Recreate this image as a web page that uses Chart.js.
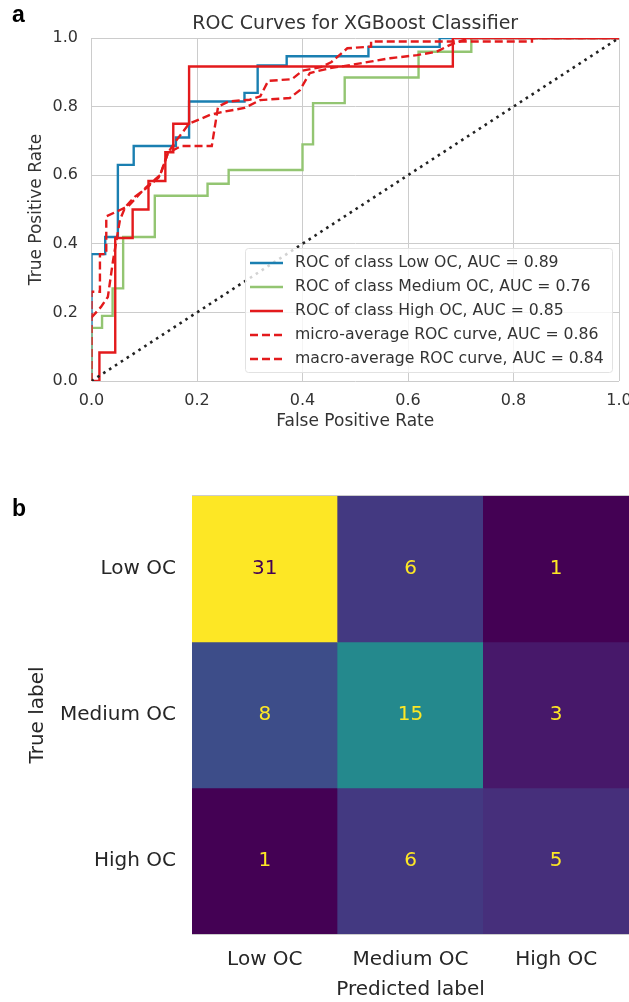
<!DOCTYPE html>
<html>
<head>
<meta charset="utf-8">
<script src="https://cdn.jsdelivr.net/npm/chart.js@4.4.0/dist/chart.umd.min.js"></script>
<style>
  html, body { margin: 0; padding: 0; background: #fff; overflow: hidden; }
  #wrap { position: relative; width: 629px; height: 1002px; }
  .panel { position: absolute; font-family: "Liberation Sans", Arial, sans-serif; font-weight: bold; font-size: 23px; line-height: 1; color: #000; }
  #rocBox { position: absolute; left: 0; top: 0; width: 629px; height: 445px; }
  #cmBox { position: absolute; left: 0; top: 480px; width: 629px; height: 522px; }
</style>
</head>
<body>
<div id="wrap">
  <div id="rocBox"><canvas id="roc"></canvas></div>
  <div id="cmBox"><canvas id="cm"></canvas></div>
  <div class="panel" style="left:12px; top:3px;">a</div>
  <div class="panel" style="left:12px; top:497px;">b</div>
</div>
<script>
// ROC curve points (fpr, tpr)
const lowFpr = [0, 0, 0.026, 0.026, 0.05, 0.05, 0.08, 0.08, 0.16, 0.16, 0.185, 0.185, 0.29, 0.29, 0.315, 0.315, 0.37, 0.37, 0.525, 0.525, 0.66, 0.66, 1];
const lowTpr = [0, 0.37, 0.37, 0.42, 0.42, 0.63, 0.63, 0.685, 0.685, 0.71, 0.71, 0.815, 0.815, 0.84, 0.84, 0.92, 0.92, 0.947, 0.947, 0.974, 0.974, 1, 1];

const medFpr = [0, 0, 0.02, 0.02, 0.04, 0.04, 0.06, 0.06, 0.12, 0.12, 0.22, 0.22, 0.26, 0.26, 0.4, 0.4, 0.42, 0.42, 0.48, 0.48, 0.62, 0.62, 0.72, 0.72, 1];
const medTpr = [0, 0.155, 0.155, 0.19, 0.19, 0.27, 0.27, 0.42, 0.42, 0.54, 0.54, 0.575, 0.575, 0.615, 0.615, 0.69, 0.69, 0.81, 0.81, 0.885, 0.885, 0.96, 0.96, 1, 1];

const highFpr = [0, 0.015, 0.015, 0.045, 0.045, 0.078, 0.078, 0.108, 0.108, 0.14, 0.14, 0.155, 0.155, 0.185, 0.185, 0.685, 0.685, 1];
const highTpr = [0, 0, 0.083, 0.083, 0.417, 0.417, 0.5, 0.5, 0.583, 0.583, 0.667, 0.667, 0.75, 0.75, 0.917, 0.917, 1, 1];

const microFpr = [0, 0, 0.016, 0.016, 0.028, 0.028, 0.056, 0.07, 0.1, 0.13, 0.145, 0.17, 0.228, 0.24, 0.26, 0.3, 0.32, 0.335, 0.38, 0.4, 0.435, 0.455, 0.485, 0.53, 0.53, 0.835, 0.835, 1];
const microTpr = [0, 0.26, 0.26, 0.37, 0.37, 0.48, 0.5, 0.51, 0.56, 0.6, 0.665, 0.685, 0.685, 0.8, 0.815, 0.82, 0.83, 0.875, 0.88, 0.905, 0.915, 0.93, 0.97, 0.975, 0.99, 0.99, 1, 1];

const macroFpr = [0, 0.018, 0.031, 0.041, 0.054, 0.064, 0.082, 0.107, 0.129, 0.145, 0.16, 0.185, 0.225, 0.25, 0.29, 0.32, 0.376, 0.395, 0.414, 0.452, 0.49, 0.528, 0.566, 0.617, 0.654, 0.68, 0.705, 0.72, 1];
const macroTpr = [0.185, 0.216, 0.245, 0.353, 0.47, 0.507, 0.537, 0.566, 0.596, 0.665, 0.70, 0.75, 0.776, 0.785, 0.796, 0.819, 0.825, 0.848, 0.898, 0.912, 0.921, 0.931, 0.941, 0.95, 0.96, 0.98, 0.994, 1, 1];

const chanceFpr = [0, 1];
const chanceTpr = [0, 1];

const rocLabels = [
  'ROC of class Low OC, AUC = 0.89',
  'ROC of class Medium OC, AUC = 0.76',
  'ROC of class High OC, AUC = 0.85',
  'micro-average ROC curve, AUC = 0.86',
  'macro-average ROC curve, AUC = 0.84'
];
const rateTicks = [0, 0.2, 0.4, 0.6, 0.8, 1.0];

// confusion matrix
const predLabels = ['Low OC', 'Medium OC', 'High OC'];
const trueLabels = ['Low OC', 'Medium OC', 'High OC'];
const rowLow = [31, 6, 1];
const rowMedium = [8, 15, 3];
const rowHigh = [1, 6, 5];
const cmRows = [rowLow, rowMedium, rowHigh];

Chart.defaults.font.family = '"DejaVu Sans", sans-serif';
Chart.defaults.color = '#333';

function pts(xs, ys) {
  return xs.map((x, i) => ({ x: x, y: ys[i] }));
}

// keep the plot box where it is, labels may overflow
function noPad(s) {
  s.paddingLeft = 0; s.paddingRight = 0; s.paddingTop = 0; s.paddingBottom = 0;
}

const BLUE = '#1a7fb1', GREEN = '#93c572', RED = '#e31a1c';

const rocLegend = {
  id: 'rocLegend',
  afterDatasetsDraw(chart) {
    const ctx = chart.ctx;
    const x0 = 245, y0 = 248, w = 367, h = 124;
    ctx.save();
    ctx.fillStyle = 'rgba(255,255,255,0.8)';
    ctx.strokeStyle = '#e2e2e2';
    ctx.lineWidth = 1;
    ctx.beginPath();
    if (ctx.roundRect) ctx.roundRect(x0 + 0.5, y0 + 0.5, w, h, 3); else ctx.rect(x0 + 0.5, y0 + 0.5, w, h);
    ctx.fill();
    ctx.stroke();
    ctx.font = '15.7px "DejaVu Sans"';
    ctx.textBaseline = 'middle';
    let row = 0;
    chart.data.datasets.forEach(ds => {
      if (!ds.inLegend) return;
      const y = y0 + 15 + row * 24;
      ctx.strokeStyle = ds.borderColor;
      ctx.lineWidth = 2.4;
      ctx.setLineDash(ds.borderDash || []);
      ctx.beginPath();
      ctx.moveTo(x0 + 5, y);
      ctx.lineTo(x0 + 38, y);
      ctx.stroke();
      ctx.setLineDash([]);
      ctx.fillStyle = '#333';
      ctx.fillText(ds.label, x0 + 50, y);
      row++;
    });
    ctx.restore();
  }
};

new Chart(document.getElementById('roc'), {
  type: 'line',
  data: {
    datasets: [
      { label: rocLabels[0], data: pts(lowFpr, lowTpr), borderColor: BLUE, inLegend: true, order: 5 },
      { label: rocLabels[1], data: pts(medFpr, medTpr), borderColor: GREEN, inLegend: true, order: 4 },
      { label: rocLabels[2], data: pts(highFpr, highTpr), borderColor: RED, inLegend: true, order: 3 },
      { label: rocLabels[3], data: pts(microFpr, microTpr), borderColor: RED, borderDash: [8, 4], inLegend: true, order: 2 },
      { label: rocLabels[4], data: pts(macroFpr, macroTpr), borderColor: RED, borderDash: [8, 4], inLegend: true, order: 1 },
      { label: 'chance', data: pts(chanceFpr, chanceTpr), borderColor: '#222', borderDash: [2.6, 4.4], borderWidth: 2.6, inLegend: false, order: 0 }
    ]
  },
  options: {
    responsive: true,
    maintainAspectRatio: false,
    animation: false,
    layout: { autoPadding: false, padding: { top: 0, right: 10, bottom: 0, left: 0 } },
    elements: { point: { radius: 0 }, line: { tension: 0, borderWidth: 2.4, fill: false } },
    plugins: {
      legend: { display: false },
      tooltip: { enabled: false },
      title: {
        display: true,
        fullSize: false,
        text: 'ROC Curves for XGBoost Classifier',
        color: '#333',
        font: { size: 19, weight: 'normal' },
        padding: { top: 12.6, bottom: 2.6 }
      }
    },
    scales: {
      x: {
        type: 'linear',
        min: 0,
        max: 1,
        afterBuildTicks: s => { s.ticks = rateTicks.map(v => ({ value: v })); },
        ticks: { padding: 10.4, font: { size: 16 }, callback: v => v.toFixed(1) },
        grid: { color: '#cccccc', drawTicks: false },
        border: { display: false },
        title: { display: true, text: 'False Positive Rate', font: { size: 17 }, padding: { top: 0, bottom: 12.8 } },
        afterFit: s => { noPad(s); s.height = 64; }
      },
      y: {
        type: 'linear',
        min: 0,
        max: 1,
        afterBuildTicks: s => { s.ticks = rateTicks.map(v => ({ value: v })); },
        ticks: { padding: 13.5, font: { size: 16 }, callback: v => v.toFixed(1) },
        grid: { color: '#cccccc', drawTicks: false },
        border: { display: false },
        title: { display: true, text: 'True Positive Rate', font: { size: 17 }, padding: { top: 26.8, bottom: 0 } },
        afterFit: s => { noPad(s); s.width = 91.5; }
      }
    }
  },
  plugins: [rocLegend]
});

// viridis colormap stops
const viridisStops = ['#440154', '#482475', '#414487', '#355f8d', '#2a788e', '#21918c', '#22a884', '#44bf70', '#7ad151', '#bddf26', '#fde725'];
function viridis(t) {
  t = Math.max(0, Math.min(1, t));
  const p = t * (viridisStops.length - 1);
  const i = Math.min(Math.floor(p), viridisStops.length - 2);
  const f = p - i;
  const a = viridisStops[i], b = viridisStops[i + 1];
  const c = k => Math.round(parseInt(a.substr(k, 2), 16) * (1 - f) + parseInt(b.substr(k, 2), 16) * f);
  return 'rgb(' + c(1) + ',' + c(3) + ',' + c(5) + ')';
}

const allVals = cmRows.flat();
const vmin = Math.min(...allVals), vmax = Math.max(...allVals);

const cellText = {
  id: 'cellText',
  afterDatasetsDraw(chart) {
    const ctx = chart.ctx;
    const a = chart.chartArea;
    ctx.save();
    // top spine
    ctx.strokeStyle = '#cccccc';
    ctx.lineWidth = 1;
    ctx.beginPath();
    ctx.moveTo(a.left, a.top - 0.5);
    ctx.lineTo(a.right, a.top - 0.5);
    ctx.stroke();
    ctx.font = '20px "DejaVu Sans"';
    ctx.textAlign = 'center';
    ctx.textBaseline = 'middle';
    cmRows.forEach((row, r) => {
      chart.getDatasetMeta(r).data.forEach((bar, c) => {
        const v = row[c];
        ctx.fillStyle = v > (vmax + vmin) / 2 ? viridis(0) : viridis(1);
        ctx.fillText(String(v), bar.x, (bar.y + bar.base) / 2);
      });
    });
    ctx.restore();
  }
};

new Chart(document.getElementById('cm'), {
  type: 'bar',
  data: {
    labels: predLabels,
    datasets: cmRows.map((row, r) => ({
      label: trueLabels[r],
      data: row.map(() => [r, r + 1]),
      backgroundColor: row.map(v => viridis((v - vmin) / (vmax - vmin))),
      borderWidth: 0,
      grouped: false,
      barPercentage: 1,
      categoryPercentage: 1
    }))
  },
  options: {
    responsive: true,
    maintainAspectRatio: false,
    animation: false,
    layout: { autoPadding: false, padding: { top: 16, right: 0, bottom: 0, left: 0 } },
    plugins: { legend: { display: false }, tooltip: { enabled: false } },
    scales: {
      x: {
        type: 'category',
        grid: { display: false, drawTicks: false },
        border: { color: '#cccccc' },
        ticks: { padding: 14, font: { size: 20 }, color: '#262626' },
        title: { display: true, text: 'Predicted label', font: { size: 20 }, color: '#262626', padding: { top: 0, bottom: 0 } },
        afterFit: s => { noPad(s); s.height = 68; }
      },
      y: {
        type: 'linear',
        min: 0,
        max: 3,
        reverse: true,
        afterBuildTicks: s => { s.ticks = trueLabels.map((t, i) => ({ value: i + 0.5 })); },
        ticks: { padding: 16, font: { size: 20 }, color: '#262626', callback: (v, i) => trueLabels[i] },
        grid: { display: false, drawTicks: false },
        border: { color: '#cccccc' },
        title: { display: true, text: 'True label', font: { size: 20 }, color: '#262626', padding: { top: 26, bottom: 0 } },
        afterFit: s => { noPad(s); s.width = 192; }
      }
    }
  },
  plugins: [cellText]
});
</script>
</body>
</html>
